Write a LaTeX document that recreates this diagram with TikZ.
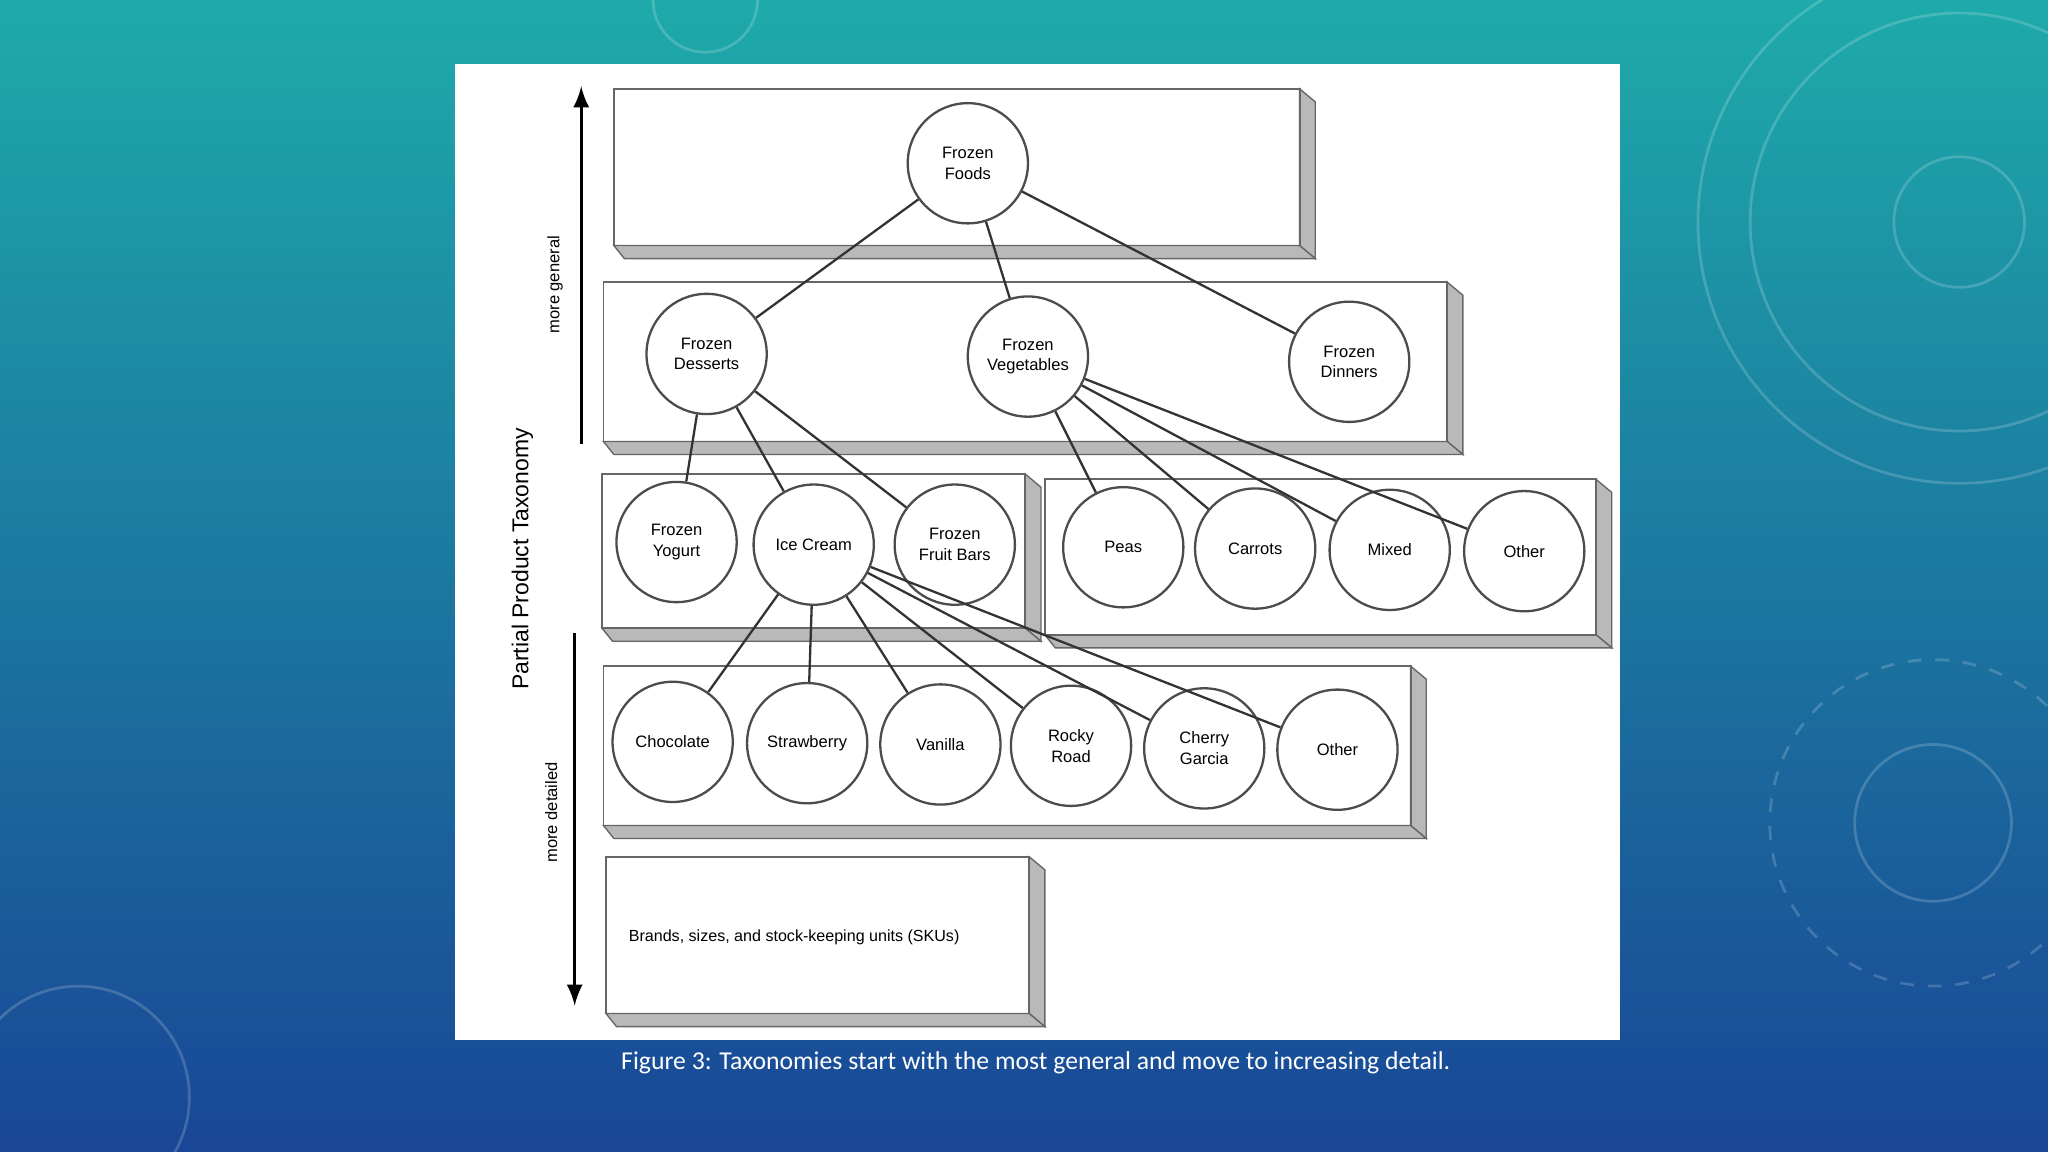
\documentclass[tikz,border=0pt]{standalone}
\usepackage{fontspec}
\setmainfont{Liberation Sans}
\newfontfamily\capfont{Carlito}
\begin{document}
\begin{tikzpicture}[x=0.01cm,y=-0.01cm,
 circ/.style={circle,draw=black!70,line width=0.5pt,fill=white,minimum size=0.92cm,inner sep=0pt,align=center,font=\fontsize{3.6pt}{4.5pt}\selectfont},
 edge/.style={draw=black!80,line width=0.5pt},
 slabside/.style={fill=gray!55,draw=black!60,line width=0.3pt},
 lbl/.style={font=\fontsize{3.6pt}{4pt}\selectfont,rotate=90}]
\useasboundingbox (0,0) rectangle (1568,882);
\shade[top color={rgb,255:red,30;green,170;blue,170},bottom color={rgb,255:red,25;green,70;blue,150}] (0,0) rectangle (1568,882);
\begin{scope}[draw=white,opacity=0.18,line width=0.6pt]
\draw (1500,170) circle (200);
\draw (1500,170) circle (160);
\draw (1500,170) circle (50);
\draw (1480,630) circle (60);
\draw[dashed] (1480,630) circle (125);
\draw (60,840) circle (85);
\draw (540,0) circle (40);
\end{scope}
\fill[white] (348,49) rectangle (1240,796);
\newcommand\myslab[4]{%
 \fill[slabside] (#3,#2) -- (#3+12,#2+10) -- (#3+12,#4+10) -- (#3,#4) -- cycle;
 \fill[slabside] (#1,#4) -- (#1+8,#4+10) -- (#3+12,#4+10) -- (#3,#4) -- cycle;
 \draw[black!60,line width=0.4pt] (#1,#2) rectangle (#3,#4);}
\myslab{470}{68}{995}{188}
\myslab{462}{216}{1108}{338}
\myslab{461}{363}{785}{481}
\myslab{800}{367}{1222}{486}
\myslab{462}{510}{1080}{632}
\myslab{464}{656}{788}{776}
% axis
\coordinate (ta) at (445,340); \coordinate (tb) at (445,66);
\coordinate (ba) at (440,485); \coordinate (bb) at (440,770);
\draw[-latex,line width=0.6pt] (ta) -- (tb);
\draw[-latex,line width=0.6pt] (ba) -- (bb);
\node[lbl] (mg) at (425,218) {more general};
\node[lbl,font=\fontsize{5pt}{6pt}\selectfont] (ppt) at (400,428) {Partial Product Taxonomy};
\node[lbl] (md) at (422,622) {more detailed};
\node[font=\fontsize{3.5pt}{4.5pt}\selectfont] (sku) at (608,718) {Brands, sizes, and stock-keeping units (SKUs)};
% circles
\node[circ] (ff) at (741,125) {Frozen\\Foods};
\node[circ] (fd) at (541,271) {Frozen\\Desserts};
\node[circ] (fv) at (787,273) {Frozen\\Vegetables};
\node[circ] (fdn) at (1033,277) {Frozen\\Dinners};
\node[circ] (fy) at (518,415) {Frozen\\Yogurt};
\node[circ] (ic) at (623,417) {Ice Cream};
\node[circ] (ffb) at (731,417) {Frozen\\Fruit Bars};
\node[circ] (peas) at (860,419) {Peas};
\node[circ] (car) at (961,420) {Carrots};
\node[circ] (mix) at (1064,421) {Mixed};
\node[circ] (oth1) at (1167,422) {Other};
\node[circ] (cho) at (515,568) {Chocolate};
\node[circ] (str) at (618,569) {Strawberry};
\node[circ] (van) at (720,570) {Vanilla};
\node[circ] (rr) at (820,571) {Rocky\\Road};
\node[circ] (cg) at (922,573) {Cherry\\Garcia};
\node[circ] (oth2) at (1024,574) {Other};
\foreach \a/\b in {ff/fd,ff/fv,ff/fdn,fd/fy,fd/ic,fd/ffb,fv/peas,fv/car,fv/mix,fv/oth1,ic/cho,ic/str,ic/van,ic/rr,ic/cg,ic/oth2}
 \draw[edge] (\a) -- (\b);
\node[white,font=\capfont\fontsize{5.6pt}{7pt}\selectfont] (cap) at (793,814) {Figure 3: Taxonomies start with the most general and move to increasing detail.};
\end{tikzpicture}
\end{document}
